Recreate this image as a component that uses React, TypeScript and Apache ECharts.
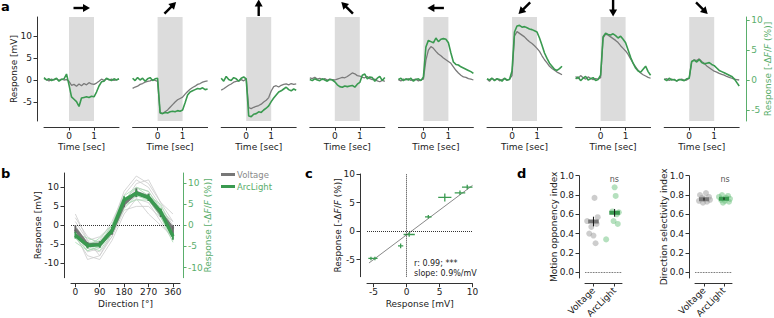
import React, { useEffect, useRef } from "react";
import * as echarts from "echarts";

// ---------------- data ----------------
const timeSec = [-1.0,-0.9,-0.8,-0.7,-0.6,-0.5,-0.4,-0.3,-0.2,-0.1,0.0,0.1,0.2,0.3,0.4,0.5,0.6,0.7,0.8,0.9,1.0,1.1,1.2,1.3,1.4,1.5,1.6,1.7,1.8,1.9,2.0];
const arrowAngles = [0, 45, 90, 135, 180, 225, 270, 315];
const timeTicks = [0, 1];
const mvTicksA = [-5, 0, 5, 10];
const pctTicksA = [-5, 0, 5, 10];

const voltageTraces: number[][] = [
  [0.3,0.1,-0.2,0.2,0.0,0.3,-0.1,0.2,0.0,0.1, -0.3, -1.2,-1.0,-1.4,-0.9,-1.3,-0.8,-1.1,-0.6,-0.9,-1.0, -0.7,-0.3,0.2,-0.1,0.3,0.0,0.2,-0.1,0.1,0.2],
  [-1.9,-1.6,-1.4,-1.0,-0.8,-0.5,-0.3,-0.2,0.1,-0.1, -0.3, -7.4,-7.6,-7.2,-6.8,-6.2,-5.6,-5.0,-4.5,-4.2,-3.9, -3.2,-2.6,-2.1,-1.7,-1.4,-1.0,-0.8,-0.5,-0.3,-0.2],
  [-2.3,-2.0,-1.6,-1.2,-0.9,-0.5,-0.3,-0.2,0.1,-0.2, 0.3, -6.3,-6.5,-6.2,-6.0,-5.8,-5.5,-5.0,-4.6,-4.0,-2.5, -1.5,-1.3,-1.6,-1.2,-1.0,-0.9,-1.1,-0.8,-1.0,-0.9],
  [0.5,0.3,0.6,0.2,0.4,0.1,0.3,0.0,0.2,0.1, 0.0, 0.2,0.4,0.6,0.5,0.8,1.2,1.6,1.4,1.0,0.9, 0.6,0.5,0.8,0.3,0.1,0.2,-0.2,-0.4,-0.1,-0.3],
  [0.1,-0.2,0.2,0.0,0.3,-0.1,0.1,0.2,-0.2,0.0, 0.2, 4.5,6.8,7.6,7.2,6.5,5.9,5.5,5.0,4.6,4.2, 3.8,3.0,2.2,1.6,1.1,0.7,0.6,0.3,0.2,0.0],
  [0.2,-0.3,0.4,0.0,0.3,-0.2,0.1,0.3,-0.1,0.2, 1.0, 10.0,11.0,10.6,10.2,9.8,9.2,8.7,8.3,7.8,7.2, 6.5,5.5,4.6,3.9,3.1,2.6,2.2,1.8,1.5,1.2],
  [0.8,0.3,1.0,0.5,0.2,0.7,0.4,0.1,0.3,0.2, 0.5, 9.6,10.4,10.2,9.8,9.4,9.0,8.5,7.8,7.2,6.6, 5.8,4.8,3.8,3.0,2.2,1.6,1.2,0.9,0.6,0.4],
  [0.1,0.3,-0.1,0.2,0.0,-0.2,0.1,0.2,-0.1,0.0, 0.4, 4.2,4.6,4.4,4.8,4.2,3.8,3.2,2.8,2.4,2.0, 1.8,1.5,1.3,1.1,0.8,0.6,0.4,0.2,0.1,0.0],
];
const arclightTraces: number[][] = [
  [0.4,0.0,0.2,-0.1,0.1,0.3,-0.2,0.1,0.2,1.0, -0.8, -2.8,-3.2,-3.6,-4.4,-3.0,-2.9,-2.8,-2.9,-2.7,-2.8, -2.0,-1.0,-0.3,-0.2,0.3,0.1,-0.1,0.2,0.0,0.2],
  [0.3,-0.1,0.4,0.0,0.3,-0.2,0.2,0.4,-0.1,0.2, 0.3, -5.5,-5.6,-5.4,-5.5,-5.3,-5.2,-5.3,-5.1,-5.2,-5.0, -3.8,-2.5,-2.0,-1.8,-1.6,-1.4,-1.5,-1.3,-1.6,-1.5],
  [0.3,-0.2,0.6,0.1,-0.1,0.4,0.2,-0.2,0.3,0.5, 0.2, -6.0,-6.1,-5.7,-5.6,-5.3,-5.4,-5.0,-4.7,-4.3,-3.6, -3.0,-2.5,-2.0,-1.8,-1.5,-1.2,-1.6,-1.8,-1.5,-1.7],
  [0.1,-0.1,0.2,0.0,-0.1,0.2,0.0,-0.2,0.1,0.0, -0.3, -0.8,-1.1,-1.2,-1.0,-1.1,-1.0,-0.9,-1.2,-0.7,-0.4, 0.8,1.0,0.2,0.5,0.4,-0.2,0.3,0.6,-0.1,0.4],
  [0.1,0.3,-0.1,0.2,0.0,0.3,-0.2,0.1,0.2,-0.1, 0.5, 5.5,6.6,6.4,6.2,7.0,6.4,6.8,6.9,6.8,6.2, 4.5,3.0,2.6,2.5,2.2,2.0,1.8,1.6,1.4,1.1],
  [0.2,0.0,0.3,-0.1,0.2,0.1,-0.2,0.3,0.0,0.1, 1.5, 8.0,9.0,9.1,8.8,8.9,8.7,8.5,8.4,8.2,8.0, 7.0,5.8,4.5,3.6,2.8,2.3,1.8,1.6,1.9,2.3],
  [0.2,0.5,-0.1,0.3,0.6,0.0,0.2,0.4,-0.1,0.1, 0.8, 7.2,7.8,7.6,7.5,7.7,7.4,7.0,7.3,6.8,6.2, 5.0,3.8,2.8,2.0,1.5,1.3,1.8,2.3,1.4,0.8],
  [0.2,-0.1,0.3,0.0,0.1,-0.2,0.1,0.0,-0.1,0.2, 0.3, 3.1,3.3,3.0,3.4,2.9,2.7,2.8,2.9,2.6,2.4, 2.0,1.6,1.4,1.2,1.0,0.8,0.6,0.2,-0.4,-1.0],
];

// panel b
const directions = [0, 45, 90, 135, 180, 225, 270, 315, 360];
const dirTicks = [0, 90, 180, 270, 360];
const mvTicksB = [-10, -5, 0, 5, 10];
const voltageMean = [-1.0, -5.2, -5.0, -1.5, 5.8, 8.6, 7.4, 3.2, -1.0];
const voltageErr = [1.0, 0.8, 0.8, 1.0, 1.0, 1.2, 1.0, 1.0, 1.0];
const arclightMean = [-2.3, -4.8, -4.6, -1.2, 6.0, 7.6, 6.6, 3.2, -2.6];
const arclightErr = [0.8, 0.7, 0.7, 0.8, 0.9, 0.9, 0.8, 0.8, 0.8];
const voltageCells: number[][] = [
  [3, -4, -8, -3, 6, 11, 12, 6, 3],
  [-2, -7, -6, -2, 5, 10, 9, 4, -2],
  [0, -5, -4, 1, 8, 12, 10, 5, 0],
  [-3, -8, -9, -4, 3, 7, 6, 1, -4],
  [1, -4, -3, 0, 7, 9, 8, 4, 1],
  [-1, -6, -7, -3, 4, 5, 5, 2, -2],
  [2, -3, -5, 0, 9, 13, 11, 6, 1],
  [-2, -9, -8, -2, 5, 7, 3, 0, -3],
];
const arclightCells: number[][] = [
  [-3, -5, -6, -2, 5, 8, 7, 3, -3],
  [-1, -4, -4, 0, 7, 9, 8, 4, -1],
  [-4, -6, -5, -2, 5, 6, 6, 2, -4],
  [-2, -3, -4, -1, 6, 8, 6, 3, -2],
  [-3, -6, -5, -2, 4, 7, 6, 2, -3],
  [-1, -5, -3, 0, 6, 9, 7, 5, -1],
];

// panel c
const cVoltage = [-5.4, -4.8, -0.9, 0.4, 3.3, 5.8, 8.1, 9.2];
const cVoltageErr = [0.4, 0.4, 0.4, 0.85, 0.5, 1.0, 0.8, 0.8];
const cArclight = [-4.8, -4.8, -2.6, -0.6, 2.5, 5.9, 6.7, 7.7];
const cArclightErr = [0.3, 0.3, 0.4, 0.4, 0.3, 0.7, 0.4, 0.4];
const cFitX = [-5.7, 10];
const cFitY = [-5.6, 8.0];
const cTicks = [-5, 0, 5, 10];

// panel d
const dCategories = ["Voltage", "ArcLight"];
const dTicks = [0, 0.2, 0.4, 0.6, 0.8, 1.0];
const moiVoltage = [0.77, 0.57, 0.53, 0.50, 0.47, 0.40, 0.38, 0.30];
const moiVoltageJitter = [0.05, 0.2, -0.3, 0.15, -0.1, -0.2, 0.0, 0.1];
const moiArclight = [0.88, 0.79, 0.63, 0.62, 0.60, 0.53, 0.50, 0.34, 0.34];
const moiArclightJitter = [0.0, 0.05, -0.1, 0.2, 0.1, -0.05, 0.15, -0.4, 0.5];
const moiMean = [0.525, 0.615];
const moiErr = [0.05, 0.04];
const dsiVoltage = [0.82, 0.80, 0.78, 0.77, 0.76, 0.75, 0.74, 0.73, 0.72];
const dsiVoltageJitter = [0.1, -0.2, 0.25, -0.1, 0.0, 0.3, -0.25, 0.15, -0.05];
const dsiArclight = [0.80, 0.79, 0.78, 0.77, 0.76, 0.75, 0.74, 0.73, 0.72];
const dsiArclightJitter = [-0.1, 0.2, -0.25, 0.1, 0.3, -0.15, 0.05, 0.25, -0.05];
const dsiMean = [0.757, 0.762];
const dsiErr = [0.015, 0.012];

// ---------------- styles ----------------
const FONT = "DejaVu Sans";
const GRAY = "#7a7a7a";
const GREEN = "#3a9a50";
const GREEN_AX = "#5aae6c";
const LIGHT_GRAY = "#cccccc";
const LIGHT_GREEN = "#a8dcb2";
const AX = "#333333";
const TXT = "#222222";

const A_LEFT = 44;
const A_STEP = 88.6;
const A_W = 75;
const A_TOP = 17;
const A_H = 104;

const gap: any = ["-", "-"];

function valueAxis(o: any) {
  const color = o.color || AX;
  const textColor = o.textColor || TXT;
  return {
    type: "value",
    gridIndex: o.grid,
    min: o.min,
    max: o.max,
    position: o.position,
    offset: o.offset || 0,
    show: o.show !== false,
    splitLine: { show: false },
    nameMoveOverlap: false,
    axisLine: { show: true, onZero: false, lineStyle: { color, width: 1 } },
    axisTick: { show: true, length: 3.5, inside: false, customValues: o.ticks, lineStyle: { color, width: 1 } },
    axisLabel: {
      show: true,
      customValues: o.ticks,
      color: textColor,
      fontSize: 9,
      fontFamily: FONT,
      margin: o.margin ?? 4,
      rotate: o.rotate || 0,
      formatter: o.formatter,
    },
    name: o.name,
    nameLocation: "middle",
    nameGap: o.nameGap,
    nameRotate: o.nameRotate,
    nameTextStyle: {
      color: textColor,
      fontSize: 9,
      fontFamily: FONT,
      rich: { i: { fontStyle: "italic", fontSize: 9, fontFamily: FONT, color: textColor } },
    },
  };
}

const DFF = "Response [-Δ{i|F}/{i|F} (%)]";

export default function App() {
  const ref = useRef<HTMLDivElement>(null);
  useEffect(() => {
    if (!ref.current) return;
    const chart = echarts.init(ref.current, null, { renderer: "svg" });

    const grids: any[] = [];
    const xAxes: any[] = [];
    const yAxes: any[] = [];
    const series: any[] = [];
    const graphics: any[] = [];

    // ---------- panel a ----------
    for (let i = 0; i < 8; i++) {
      const left = A_LEFT + i * A_STEP;
      grids.push({ left, top: A_TOP, width: A_W, height: A_H, outerBoundsMode: "none" });
      xAxes.push(valueAxis({ grid: i, min: -1, max: 2, offset: 6, ticks: timeTicks, name: "Time [sec]", nameGap: 15 }));
      yAxes.push(valueAxis({ grid: i, min: -9.32, max: 14.32, position: "left", offset: 7, ticks: mvTicksA, show: i === 0, name: "Response [mV]", nameGap: 19, nameRotate: 90, margin: 5 }));
      yAxes.push(valueAxis({ grid: i, min: -6.83, max: 10.5, position: "right", offset: 7, ticks: pctTicksA, show: i === 7, color: GREEN_AX, textColor: GREEN_AX, name: DFF, nameGap: 17, nameRotate: 90, margin: 5 }));
      series.push({
        type: "line", name: "v" + i, xAxisIndex: i, yAxisIndex: 2 * i, z: 3, showSymbol: false, silent: true,
        data: timeSec.map((t, k) => [t, voltageTraces[i][k]]),
        lineStyle: { color: GRAY, width: 1.3 },
        markArea: { silent: true, z: 1, itemStyle: { color: "#dcdcdc" }, data: [[{ xAxis: 0 }, { xAxis: 1 }]] },
      });
      series.push({
        type: "line", name: "g" + i, xAxisIndex: i, yAxisIndex: 2 * i + 1, z: 4, showSymbol: false, silent: true,
        data: timeSec.map((t, k) => [t, arclightTraces[i][k]]),
        lineStyle: { color: GREEN, width: 1.6 },
      });
      graphics.push({
        type: "group",
        x: left + A_W / 2,
        y: 8,
        rotation: (arrowAngles[i] * Math.PI) / 180,
        children: [
          { type: "line", shape: { x1: -8, y1: 0, x2: 3, y2: 0 }, style: { stroke: "#000", lineWidth: 2.4 } },
          { type: "polygon", shape: { points: [[8.5, 0], [1.5, -4], [1.5, 4]] }, style: { fill: "#000" } },
        ],
      });
    }

    // ---------- panel b ----------
    const gb = 8;
    grids.push({ left: 71, top: 173, width: 109, height: 104.7, outerBoundsMode: "none" });
    xAxes.push(valueAxis({ grid: gb, min: -16, max: 386, offset: 6, ticks: dirTicks, name: "Direction [°]", nameGap: 16 }));
    yAxes.push(valueAxis({ grid: gb, min: -13.8, max: 13.8, position: "left", offset: 7, ticks: mvTicksB, name: "Response [mV]", nameGap: 22, nameRotate: 90, margin: 5 }));
    yAxes.push(valueAxis({ grid: gb, min: -12.4, max: 12.4, position: "right", offset: 3, ticks: mvTicksB, color: GREEN_AX, textColor: GREEN_AX, name: DFF, nameGap: 20, nameRotate: 90, margin: 5 }));
    const yb = 16;
    voltageCells.forEach((c, j) => series.push({
      type: "line", name: "vc" + j, xAxisIndex: gb, yAxisIndex: yb, z: 2, showSymbol: false, silent: true,
      data: directions.map((d, k) => [d, c[k]]), lineStyle: { color: LIGHT_GRAY, width: 0.8 },
    }));
    arclightCells.forEach((c, j) => series.push({
      type: "line", name: "gc" + j, xAxisIndex: gb, yAxisIndex: yb + 1, z: 2, showSymbol: false, silent: true,
      data: directions.map((d, k) => [d, c[k]]), lineStyle: { color: LIGHT_GREEN, width: 0.8 },
    }));
    series.push({
      type: "line", name: "Voltage", xAxisIndex: gb, yAxisIndex: yb, z: 5, showSymbol: false, silent: true,
      data: directions.map((d, k) => [d, voltageMean[k]]), lineStyle: { color: "#777", width: 3.5 }, itemStyle: { color: "#777" },
      markLine: { silent: true, symbol: "none", label: { show: false }, lineStyle: { color: "#333", type: "dotted", width: 1 }, data: [{ yAxis: 0 }] },
    });
    series.push({
      type: "line", name: "vErr", xAxisIndex: gb, yAxisIndex: yb, z: 5, showSymbol: false, silent: true,
      data: directions.flatMap((d, k) => [[d, voltageMean[k] - voltageErr[k]], [d, voltageMean[k] + voltageErr[k]], gap]),
      lineStyle: { color: "#666", width: 1.8 },
    });
    series.push({
      type: "line", name: "ArcLight", xAxisIndex: gb, yAxisIndex: yb + 1, z: 6, showSymbol: false, silent: true,
      data: directions.map((d, k) => [d, arclightMean[k]]), lineStyle: { color: GREEN, width: 3.5 }, itemStyle: { color: GREEN },
    });
    series.push({
      type: "line", name: "gErr", xAxisIndex: gb, yAxisIndex: yb + 1, z: 6, showSymbol: false, silent: true,
      data: directions.flatMap((d, k) => [[d, arclightMean[k] - arclightErr[k]], [d, arclightMean[k] + arclightErr[k]], gap]),
      lineStyle: { color: GREEN, width: 1.8 },
    });

    // ---------- panel c ----------
    const gc = 9;
    grids.push({ left: 367, top: 174, width: 105.5, height: 102.7, outerBoundsMode: "none" });
    xAxes.push(valueAxis({ grid: gc, min: -6, max: 10, offset: 7, ticks: cTicks, name: "Response [mV]", nameGap: 16 }));
    yAxes.push(valueAxis({ grid: gc, min: -8, max: 10, position: "left", offset: 7, ticks: cTicks, name: DFF, nameGap: 18, nameRotate: 90, margin: 5 }));
    const yc = 18;
    series.push({
      type: "line", name: "fit", xAxisIndex: gc, yAxisIndex: yc, z: 3, showSymbol: false, silent: true,
      data: cFitX.map((x, k) => [x, cFitY[k]]), lineStyle: { color: "#888", width: 1 },
      markLine: { silent: true, symbol: "none", label: { show: false }, lineStyle: { color: "#333", type: "dotted", width: 1 }, data: [{ xAxis: 0 }, { yAxis: 0 }] },
    });
    series.push({
      type: "line", name: "cErr", xAxisIndex: gc, yAxisIndex: yc, z: 4, showSymbol: false, silent: true,
      data: cVoltage.flatMap((x, k) => [
        [x - cVoltageErr[k], cArclight[k]], [x + cVoltageErr[k], cArclight[k]], gap,
        [x, cArclight[k] - cArclightErr[k]], [x, cArclight[k] + cArclightErr[k]], gap,
      ]),
      lineStyle: { color: GREEN, width: 1.3 },
    });

    // ---------- panel d ----------
    const dPanels = [
      { left: 585, min: -0.4, max: 1.35, name: "Motion opponency index", v: moiVoltage, vj: moiVoltageJitter, a: moiArclight, aj: moiArclightJitter, mean: moiMean, err: moiErr },
      { left: 695, min: -0.45, max: 1.4, name: "Direction selectivity index", v: dsiVoltage, vj: dsiVoltageJitter, a: dsiArclight, aj: dsiArclightJitter, mean: dsiMean, err: dsiErr },
    ];
    dPanels.forEach((p, j) => {
      const gi = 10 + j;
      const yi = 19 + j;
      grids.push({ left: p.left, top: 175.7, width: 37, height: 102.3, outerBoundsMode: "none" });
      xAxes.push(valueAxis({ grid: gi, min: p.min, max: p.max, offset: 5, ticks: [0, 1], rotate: 45, margin: 6, formatter: (v: number) => dCategories[Math.round(v)] }));
      yAxes.push(valueAxis({ grid: gi, min: -0.06, max: 1.0, position: "left", offset: 6, ticks: dTicks, name: p.name, nameGap: 21, nameRotate: 90, margin: 5, formatter: (v: number) => v.toFixed(1) }));
      series.push({
        type: "scatter", name: "dv" + j, xAxisIndex: gi, yAxisIndex: yi, z: 3, silent: true, symbolSize: 6,
        data: p.v.map((v, k) => [p.vj[k], v]), itemStyle: { color: "rgba(150,150,150,0.6)" },
        markLine: { silent: true, symbol: "none", label: { show: false }, lineStyle: { color: "#333", type: "dotted", width: 0.8 }, data: [{ yAxis: 0 }] },
      });
      series.push({
        type: "scatter", name: "da" + j, xAxisIndex: gi, yAxisIndex: yi, z: 3, silent: true, symbolSize: 6,
        data: p.a.map((v, k) => [1 + p.aj[k], v]), itemStyle: { color: "rgba(100,190,120,0.6)" },
      });
      series.push({
        type: "line", name: "dmv" + j, xAxisIndex: gi, yAxisIndex: yi, z: 5, showSymbol: false, silent: true,
        data: [[-0.25, p.mean[0]], [0.25, p.mean[0]]], lineStyle: { color: "#777", width: 4 },
      });
      series.push({
        type: "line", name: "dma" + j, xAxisIndex: gi, yAxisIndex: yi, z: 5, showSymbol: false, silent: true,
        data: [[0.75, p.mean[1]], [1.25, p.mean[1]]], lineStyle: { color: GREEN, width: 4 },
      });
      series.push({
        type: "line", name: "dme" + j, xAxisIndex: gi, yAxisIndex: yi, z: 6, showSymbol: false, silent: true,
        data: [[0, p.mean[0] - p.err[0]], [0, p.mean[0] + p.err[0]], gap, [1, p.mean[1] - p.err[1]], [1, p.mean[1] + p.err[1]]],
        lineStyle: { color: "#111", width: 1 },
      });
      graphics.push({ type: "text", x: p.left + (j === 0 ? 29.3 : 30), y: 179, style: { text: "ns", fill: "#555", font: `8px '${FONT}'`, textAlign: "center", textVerticalAlign: "middle" } });
    });

    // texts
    const label = (t: string, x: number, y: number) => ({ type: "text", x, y, style: { text: t, fill: "#000", font: `bold 13px '${FONT}'`, textAlign: "left", textVerticalAlign: "middle" } });
    graphics.push(label("a", 1, 6.5));
    graphics.push(label("b", 1, 173.5));
    graphics.push(label("c", 305, 173.5));
    graphics.push(label("d", 517, 173.5));
    graphics.push({ type: "text", x: 414, y: 263, style: { text: "r: 0.99; ***", fill: TXT, font: `8px '${FONT}'`, textAlign: "left", textVerticalAlign: "middle" } });
    graphics.push({ type: "text", x: 414, y: 273.5, style: { text: "slope: 0.9%/mV", fill: TXT, font: `8px '${FONT}'`, textAlign: "left", textVerticalAlign: "middle" } });

    chart.setOption({
      animation: false,
      backgroundColor: "#ffffff",
      textStyle: { fontFamily: FONT },
      grid: grids,
      xAxis: xAxes,
      yAxis: yAxes,
      series,
      legend: {
        show: true,
        orient: "vertical",
        left: 221,
        top: 170,
        itemWidth: 14,
        itemHeight: 3,
        itemGap: 3,
        icon: "rect",
        padding: 0,
        selectedMode: false,
        textStyle: { fontSize: 8.5, fontFamily: FONT, padding: [0, 0, 0, -3] },
        data: [
          { name: "Voltage", textStyle: { color: "#8a8a8a" } },
          { name: "ArcLight", textStyle: { color: GREEN_AX } },
        ],
      },
      graphic: graphics,
    });
    return () => chart.dispose();
  }, []);
  return <div ref={ref} style={{ position: "absolute", left: 0, top: 0, width: 774, height: 318, background: "#fff" }} />;
}
